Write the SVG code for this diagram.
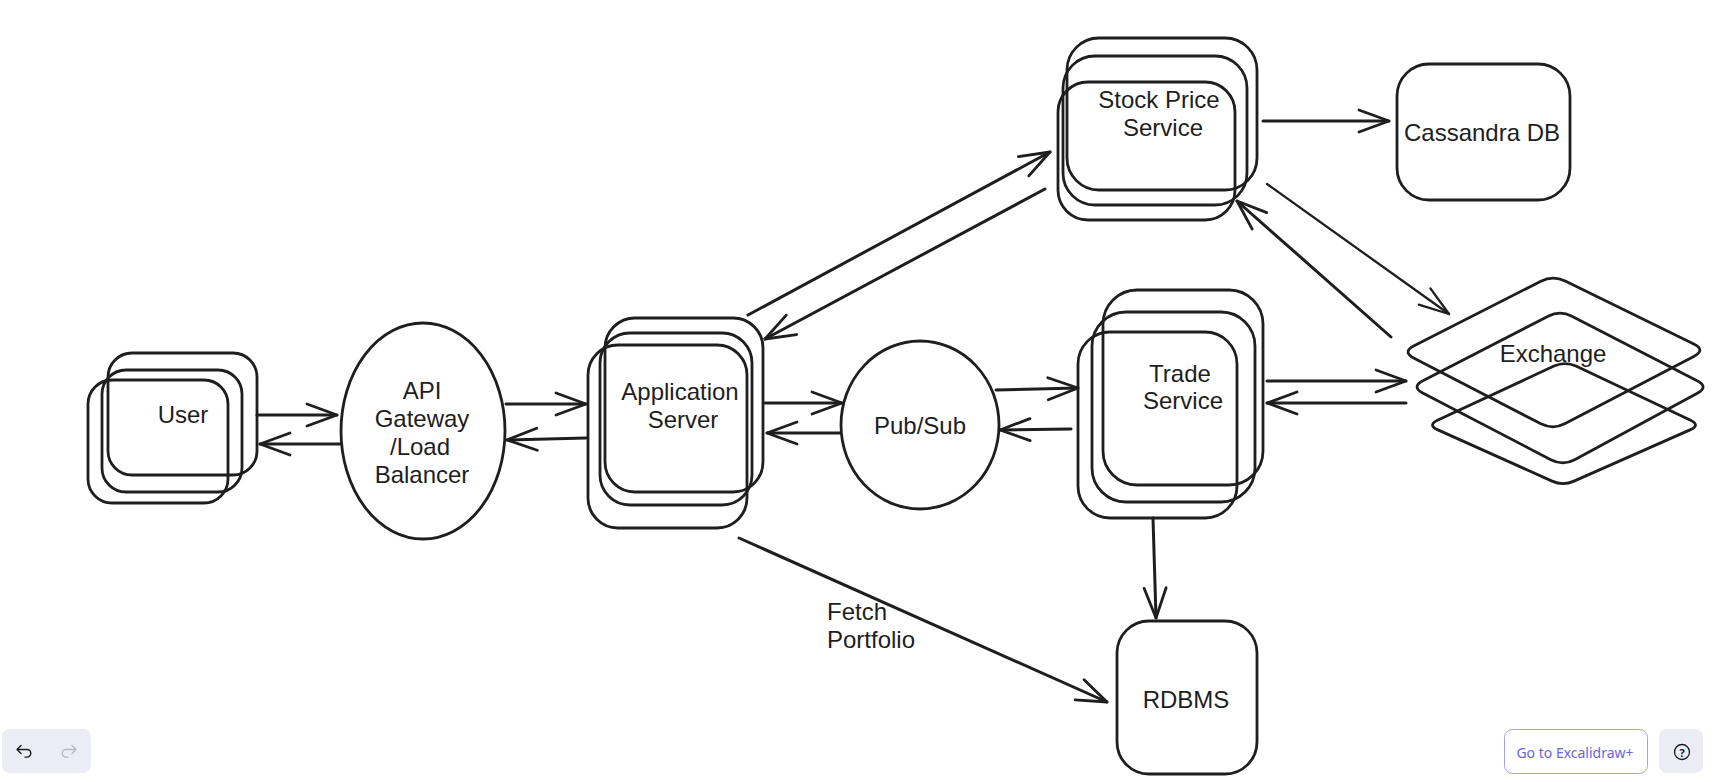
<svg xmlns="http://www.w3.org/2000/svg" width="1717" height="782" viewBox="0 0 1717 782">
<style>
.s{fill:none;stroke:#1e1e1e;stroke-width:2.8;stroke-linecap:round;stroke-linejoin:round}
.c{fill:none;stroke:#1e1e1e;stroke-width:3;stroke-linecap:round}
.c2{fill:none;stroke:#1e1e1e;stroke-width:2.3;stroke-linecap:round}
.t{font-family:"Liberation Sans",Arial,Helvetica,sans-serif;font-size:24px;fill:#1e1e1e;text-anchor:middle}
.tl{font-family:"Liberation Sans",Arial,Helvetica,sans-serif;font-size:24px;fill:#1e1e1e;text-anchor:start}
.ui{font-family:"Noto Sans","Open Sans",sans-serif;font-size:14px;fill:#6965db;text-anchor:middle}
</style>
<defs>
<marker id="ah" viewBox="-34 -15 38 30" refX="0" refY="0" markerWidth="38" markerHeight="30" markerUnits="userSpaceOnUse" orient="auto" overflow="visible">
<path d="M-30,-11 L0,0 L-30,11" fill="none" stroke="#1e1e1e" stroke-width="2.8" stroke-linecap="round" stroke-linejoin="round"/>
</marker>
<marker id="ah2" viewBox="-34 -15 38 30" refX="0" refY="0" markerWidth="38" markerHeight="30" markerUnits="userSpaceOnUse" orient="auto" overflow="visible">
<path d="M-30,-10 L0,0 L-30,10" fill="none" stroke="#1e1e1e" stroke-width="2.3" stroke-linecap="round" stroke-linejoin="round"/>
</marker>
</defs>
<rect width="1717" height="782" fill="#ffffff"/>

<g id="user">
<rect class="s" x="108" y="353" width="149" height="122" rx="24"/>
<rect class="s" x="102" y="370" width="140" height="122" rx="24"/>
<rect class="s" x="88" y="380" width="140" height="123" rx="24"/>
<text class="t" x="183" y="423">User</text>
</g>

<g id="api-gateway">
<ellipse class="s" cx="423" cy="431" rx="82" ry="108"/>
<text class="t" x="422" y="399">API</text>
<text class="t" x="422" y="427">Gateway</text>
<text class="t" x="420" y="455">/Load</text>
<text class="t" x="422" y="483">Balancer</text>
</g>

<g id="application-server">
<rect class="s" x="605" y="318" width="158" height="174" rx="30"/>
<rect class="s" x="600" y="333" width="152" height="172" rx="30"/>
<rect class="s" x="588" y="345" width="159" height="183" rx="30"/>
<text class="t" x="680" y="400">Application</text>
<text class="t" x="683" y="428">Server</text>
</g>

<g id="pubsub">
<ellipse class="s" cx="920" cy="425" rx="79" ry="84"/>
<text class="t" x="920" y="434">Pub/Sub</text>
</g>

<g id="stock-price-service">
<rect class="s" x="1067" y="38" width="190" height="152" rx="32"/>
<rect class="s" x="1063" y="56" width="184" height="149" rx="32"/>
<rect class="s" x="1058" y="82" width="177" height="138" rx="30"/>
<text class="t" x="1159" y="108">Stock Price</text>
<text class="t" x="1163" y="136">Service</text>
</g>

<g id="cassandra-db">
<rect class="s" x="1397" y="64" width="173" height="136" rx="32"/>
<text class="t" x="1482" y="141">Cassandra DB</text>
</g>

<g id="trade-service">
<rect class="s" x="1103" y="290" width="160" height="195" rx="34"/>
<rect class="s" x="1092" y="312" width="163" height="190" rx="34"/>
<rect class="s" x="1078" y="332" width="159" height="186" rx="32"/>
<text class="t" x="1180" y="382">Trade</text>
<text class="t" x="1183" y="409">Service</text>
</g>

<g id="exchange">
<path class="s" d="M1414.1,345.8 L1540.9,281.2 Q1553,275 1565.2,281 L1693.8,344 Q1706,350 1693.8,356.4 L1565.2,423.6 Q1553,430 1540.9,423.8 L1414.1,358.2 Q1402,352 1414.1,345.8 Z"/>
<path class="s" d="M1422.9,380.8 L1548.1,316.2 Q1560,310 1571.9,316.2 L1697.1,380.8 Q1709,387 1697.3,393.3 L1574.7,459.7 Q1563,466 1550.8,459.7 L1423.2,393.3 Q1411,387 1422.9,380.8 Z"/>
<path class="s" d="M1438,419.9 L1554,366.1 Q1565,361 1575.9,366.1 L1690.1,419.9 Q1701,425 1690,429.9 L1574,481.1 Q1563,486 1552.1,481.1 L1437.9,429.9 Q1427,425 1438,419.9 Z"/>
<text class="t" x="1553" y="362">Exchange</text>
</g>

<g id="rdbms">
<rect class="s" x="1117" y="621" width="140" height="153" rx="32"/>
<text class="t" x="1186" y="708">RDBMS</text>
</g>

<g id="connectors">
<path class="c" d="M257,415 L337,415" marker-end="url(#ah)"/>
<path class="c" d="M340,444 L260,444" marker-end="url(#ah)"/>
<path class="c" d="M506,404 L586,404" marker-end="url(#ah)"/>
<path class="c" d="M586,438 L507,440" marker-end="url(#ah)"/>
<path class="c" d="M765,403 L842,403" marker-end="url(#ah)"/>
<path class="c" d="M840,433 L767,433" marker-end="url(#ah)"/>
<path class="c" d="M996,390 L1078,388" marker-end="url(#ah)"/>
<path class="c" d="M1071,429 L1000,430" marker-end="url(#ah)"/>
<path class="c" d="M1267,381 L1406,381" marker-end="url(#ah)"/>
<path class="c" d="M1406,403 L1267,403" marker-end="url(#ah)"/>
<path class="c" d="M1263,121 L1389,121" marker-end="url(#ah)"/>
<path class="c2" d="M1267,184 L1449,314" marker-end="url(#ah2)"/>
<path class="c" d="M1391,337 L1237,201" marker-end="url(#ah)"/>
<path class="c" d="M748,315 L1050,152" marker-end="url(#ah)"/>
<path class="c" d="M1045,189 L765,339" marker-end="url(#ah)"/>
<path class="c" d="M739,538 L1107,702" marker-end="url(#ah)"/>
<path class="c" d="M1153,518 L1156,618" marker-end="url(#ah)"/>
<text class="tl" x="827" y="620">Fetch</text>
<text class="tl" x="827" y="648">Portfolio</text>
</g>

<g id="ui-undo-redo">
<rect x="2" y="729" width="89" height="44" rx="8" fill="#ececf4"/>
<path d="M21,745.5 L17,749.5 L21,753.5 M17,749.5 H27 A3.8,3.8 0 0 1 27,757.1 H25" fill="none" stroke="#1b1b1f" stroke-width="1.4" stroke-linecap="round" stroke-linejoin="round"/>
<path d="M72,745.5 L76,749.5 L72,753.5 M76,749.5 H66 A3.8,3.8 0 0 0 66,757.1 H68" fill="none" stroke="#b8b8c4" stroke-width="1.4" stroke-linecap="round" stroke-linejoin="round"/>
</g>

<g id="ui-excalidraw-plus">
<rect x="1504.5" y="729.5" width="143" height="44" rx="8" fill="#ffffff" stroke="#a3a0ea" stroke-width="1"/>
<text class="ui" x="1575" y="758">Go to Excalidraw+</text>
</g>

<g id="ui-help">
<rect x="1659" y="729" width="44" height="44" rx="8" fill="#ececf4"/>
<circle cx="1682" cy="752" r="7.5" fill="none" stroke="#1b1b1f" stroke-width="1.3"/>
<text x="1682" y="756.5" font-family="Noto Sans, sans-serif" font-size="11" font-weight="bold" fill="#1b1b1f" text-anchor="middle">?</text>
</g>
</svg>
